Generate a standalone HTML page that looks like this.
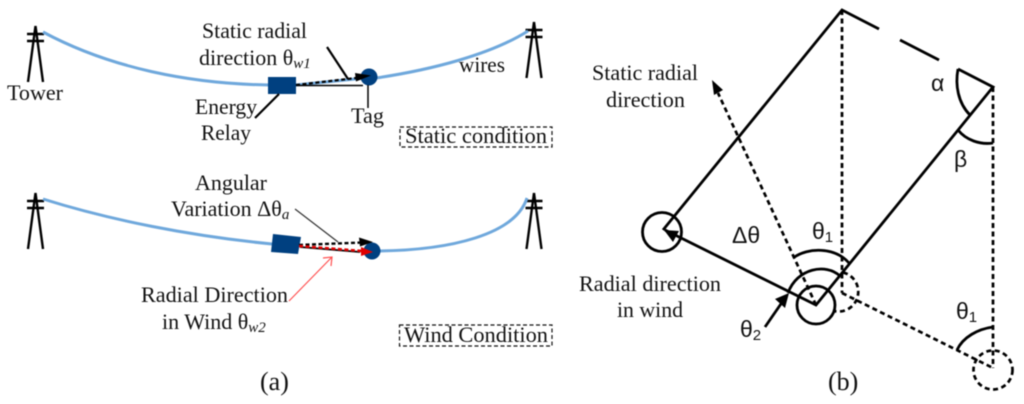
<!DOCTYPE html>
<html><head><meta charset="utf-8">
<style>
html,body{margin:0;padding:0;background:#fff;width:1024px;height:404px;overflow:hidden}
svg{display:block;filter:blur(0.45px)}
text{font-family:"Liberation Serif",serif;font-size:22px;fill:#111}
.s{font-family:"Liberation Sans",sans-serif;font-size:23px}
.i{font-style:italic;font-size:15px}
.w{fill:none;stroke:#6fa8dc;stroke-width:3}
.k{fill:none;stroke:#000;stroke-width:2.8}
.d{fill:none;stroke:#000;stroke-width:2.7;stroke-dasharray:5 3.5}
.n{fill:#004080}
</style></head><body>
<svg width="1024" height="404" viewBox="0 0 1024 404" xmlns="http://www.w3.org/2000/svg">
<defs>
<path id="tw" d="M28 56 L35.500 0 L43 56 M27 8H44 M27 15H44" fill="none" stroke="#000" stroke-width="2.400"/>
</defs>
<!-- top panel -->
<use href="#tw" x="0" y="26"/>
<use href="#tw" x="498.500" y="22"/>
<path class="w" d="M43 32 C110 68 190 84 270 85"/>
<path class="w" d="M376 78 C430 70 490 55 528 31"/>
<path class="w" d="M296 85 L365 78"/>
<rect class="n" x="268" y="77" width="28" height="17"/>
<circle class="n" cx="369" cy="77" r="8.500"/>
<path d="M296 85.500H363" stroke="#000" stroke-width="1.500"/>
<path d="M296 85 L356 78" class="d" style="stroke-dasharray:4 2.500;stroke-width:2.200"/>
<path d="M371 75.500 L355 73 L356 81.500 Z" fill="#000"/>
<path d="M327 47 L348 79" class="k" style="stroke-width:2.200"/>
<path d="M368 85V108" stroke="#000" stroke-width="1.500"/>
<path d="M279 94 L255 118" class="k" style="stroke-width:2.200"/>
<rect x="400" y="127" width="152" height="20" fill="none" stroke="#111" stroke-width="1.200" stroke-dasharray="4 2.500"/>
<!-- bottom panel -->
<use href="#tw" x="0" y="193"/>
<use href="#tw" x="498.500" y="193"/>
<path class="w" d="M43 199 C110 220 190 236 272 244"/>
<path class="w" d="M379 251 C450 250 515 235 527 198"/>
<polygon class="n" points="273,234 301,237 298,254 271,252"/>
<circle class="n" cx="372" cy="251" r="8.500"/>
<path d="M300 247 L360 252" stroke="#000" stroke-width="1.800"/>
<path d="M299 245 L362 242.500" class="d" style="stroke-dasharray:4 2.500;stroke-width:2.400"/>
<path d="M373 242 L359 237.500 L360 246.500 Z" fill="#000"/>
<path d="M299 246 L362 251" fill="none" stroke="#e00000" stroke-width="2.600" stroke-dasharray="4 2.500"/>
<path d="M373 252 L361 247 L361 256 Z" fill="#e00000"/>
<path d="M295 209 L338 242" stroke="#333" stroke-width="1.200"/>
<path d="M289 301 L332 257 M323 258 L332 257 L331 266" fill="none" stroke="#ff5050" stroke-width="1.200"/>
<rect x="399.500" y="325" width="152.500" height="21" fill="none" stroke="#111" stroke-width="1.200" stroke-dasharray="4 2.500"/>
<!-- labels a -->
<text x="202" y="38" textLength="105" lengthAdjust="spacingAndGlyphs">Static radial</text>
<text x="199" y="65">direction θ<tspan class="i" dy="3">w1</tspan></text>
<text x="7" y="100" textLength="56" lengthAdjust="spacingAndGlyphs">Tower</text>
<text x="195" y="114" textLength="62" lengthAdjust="spacingAndGlyphs">Energy</text>
<text x="201" y="140" textLength="50" lengthAdjust="spacingAndGlyphs">Relay</text>
<text x="351" y="123" textLength="33" lengthAdjust="spacingAndGlyphs">Tag</text>
<text x="459" y="72" textLength="46" lengthAdjust="spacingAndGlyphs">wires</text>
<text x="405" y="143" textLength="142" lengthAdjust="spacingAndGlyphs">Static condition</text>
<text x="195" y="190" textLength="72" lengthAdjust="spacingAndGlyphs">Angular</text>
<text x="171" y="216">Variation Δθ<tspan class="i" dy="3">a</tspan></text>
<text x="141" y="302" textLength="147" lengthAdjust="spacingAndGlyphs">Radial Direction</text>
<text x="162" y="329">in Wind θ<tspan class="i" dy="3">w2</tspan></text>
<text x="404" y="342" textLength="144" lengthAdjust="spacingAndGlyphs">Wind Condition</text>
<text x="260" y="390" style="font-size:26px">(a)</text>
<!-- panel b -->
<path class="k" d="M663 230 L842 10 L879 29 M900 40 L939 60 M958 69 L993 87 L816 305 L665 230"/>
<circle class="k" cx="662" cy="232" r="19.500"/>
<circle class="k" cx="816" cy="305" r="19"/>
<path class="k" d="M958 69 C955 85 958 103 970 115"/>
<path class="k" d="M958 130 C966 140 980 145 993 143"/>
<path class="k" d="M793 258 C808 247 835 247 849 263"/>
<path class="k" d="M788 293 C797 268 826 263 840 276"/>
<path class="k" d="M957 350 C963 337 978 329 993 327"/>
<path class="k" d="M765 327 L785 298"/>
<path d="M664 230 L679 231 L673 242 Z" fill="#000"/>
<path d="M789 293 L775 299 L785 308 Z" fill="#000"/>
<path class="d" d="M842 10V293 M993 87V368 M842 293 L993 368 M816 305 L718 93"/>
<path d="M712 80 L723 90 L714 95 Z" fill="#000"/>
<path class="d" d="M843 272.500 A19.500 19.500 0 0 1 834 311"/>
<circle class="d" cx="993" cy="370" r="19.500"/>
<text class="s" x="931" y="91">α</text>
<text class="s" x="954" y="167">β</text>
<text class="s" x="732" y="243">Δθ</text>
<text class="s" x="812" y="239">θ<tspan dy="3" style="font-size:15px">1</tspan></text>
<text class="s" x="740" y="337">θ<tspan dy="3" style="font-size:15px">2</tspan></text>
<text class="s" x="956" y="319">θ<tspan dy="3" style="font-size:15px">1</tspan></text>
<text x="592" y="80" textLength="106" lengthAdjust="spacingAndGlyphs">Static radial</text>
<text x="606" y="107" textLength="79" lengthAdjust="spacingAndGlyphs">direction</text>
<text x="579" y="291" textLength="142" lengthAdjust="spacingAndGlyphs">Radial direction</text>
<text x="617" y="317" textLength="66" lengthAdjust="spacingAndGlyphs">in wind</text>
<text x="828" y="390" style="font-size:26px">(b)</text>
</svg>
</body></html>
